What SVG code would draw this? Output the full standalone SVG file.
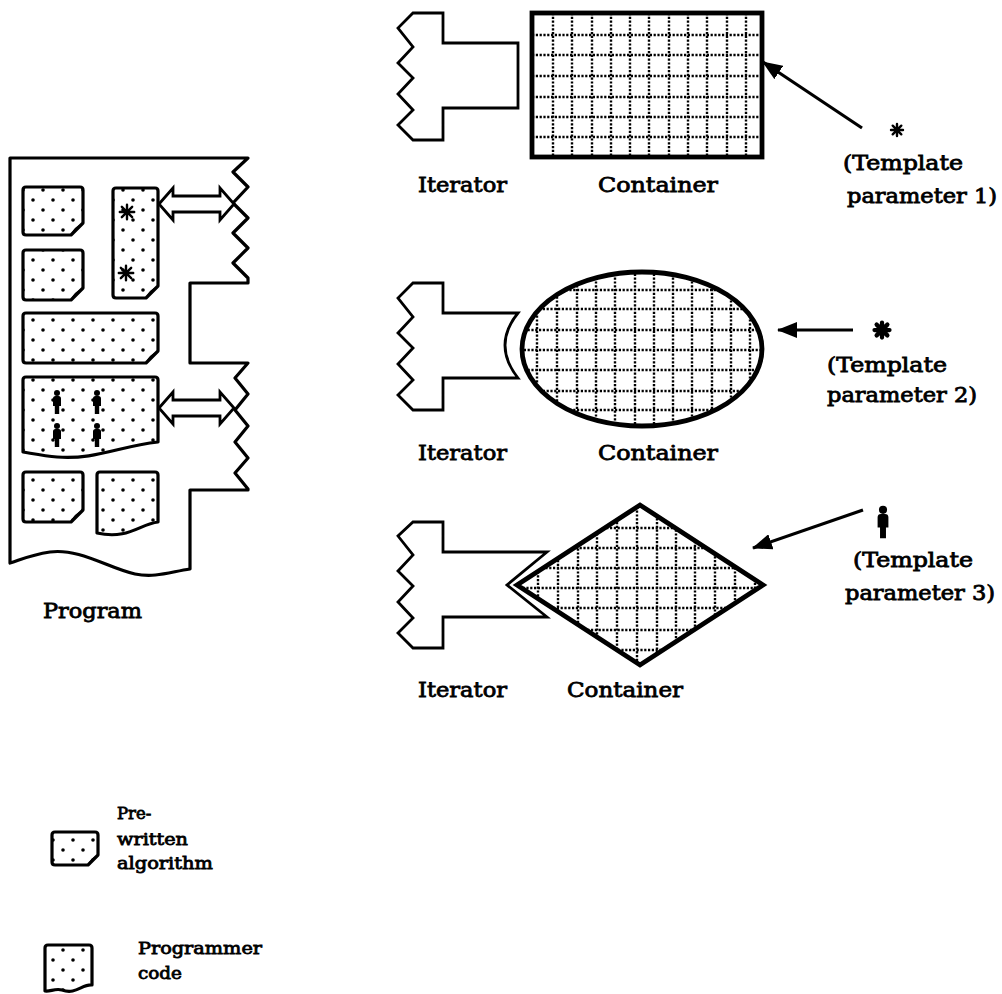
<svg xmlns="http://www.w3.org/2000/svg" width="1002" height="994" viewBox="0 0 1002 994">
<style>
.ln{fill:none;stroke:#000;stroke-width:3.2;stroke-linejoin:round}
.blk{fill:url(#dots);stroke:#000;stroke-width:3.2;stroke-linejoin:round}
.flap{fill:#000}
.it{fill:#fff;stroke:#000;stroke-width:2.8;stroke-linejoin:miter}
.grid{fill:none;stroke:#000;stroke-width:2.4;stroke-dasharray:2.2 1.6}
.cont{fill:none;stroke:#000;stroke-width:4.8;stroke-linejoin:miter}
.dbl{fill:#fff;stroke:#000;stroke-width:2.8;stroke-linejoin:miter}
.conn{fill:none;stroke:#000;stroke-width:3.2}
.star{stroke:#000;stroke-linecap:round}
text{font-family:"DejaVu Serif","Liberation Serif",serif;fill:#000;stroke:#000;stroke-width:0.8}
.lbl{font-size:20.5px}
.tp{font-size:19.5px}
.lg{font-size:16.5px}
</style>
<defs>
<pattern id="dots" patternUnits="userSpaceOnUse" x="8" y="-5" width="20" height="20">
<circle cx="5" cy="5" r="1.8" fill="#000"/>
<circle cx="15" cy="15" r="1.8" fill="#000"/>
</pattern>
<marker id="ah" markerUnits="userSpaceOnUse" markerWidth="20" markerHeight="16" refX="19" refY="8" orient="auto">
<path d="M0,0 L20,8 L0,16 Z" fill="#000"/>
</marker>
<g id="person">
<circle cx="0" cy="-9" r="3"/>
<path d="M-4,-3.5 Q-4,-6 -1.5,-6 H1.5 Q4,-6 4,-3.5 V4 H2.2 V12 H-2.2 V4 H-4 Z"/>
</g>
<g id="ast">
<path d="M-6,0H6M0,-6V6M-4.3,-4.3L4.3,4.3M-4.3,4.3L4.3,-4.3"/>
</g>
<clipPath id="cpRect"><rect x="532" y="13" width="230" height="144"/></clipPath>
<clipPath id="cpEll"><ellipse cx="642" cy="349" rx="120" ry="77"/></clipPath>
<clipPath id="cpDia"><path d="M517,585 L640,505 L763,585 L640,665 Z"/></clipPath>
</defs>

<g id="program">
<path class="ln" d="M10,563 V158 H248 L233,172 L248,187 L233,203 L248,218 L233,233 L248,248 L233,263 L248,278 V283 H190 V363 H248 L235,378 L248,394 L235,410 L248,426 L235,442 L248,458 L235,473 L248,489 V490 H190 V569 C170,572 155,578 135,574 C110,569 80,548 50,552 C30,555 20,560 10,563 Z"/>
<g id="blockA">
<path class="blk" d="M26,187 H80 Q83,187 83,190 V223 L71,235 H26 Q23,235 23,232 V190 Q23,187 26,187 Z"/>
<path class="flap" d="M83,223 L71,235 Q73,227 83,223 Z"/>
</g>
<g id="blockB">
<path class="blk" d="M116,188 H155 Q158,188 158,191 V286 L146,298 H116 Q113,298 113,295 V191 Q113,188 116,188 Z"/>
<path class="flap" d="M158,286 L146,298 Q148,290 158,286 Z"/>
<g transform="translate(127,212) scale(1.2)" class="star" stroke-width="2"><use href="#ast"/></g>
<g transform="translate(126,273) scale(1.2)" class="star" stroke-width="2"><use href="#ast"/></g>
</g>
<g id="blockC">
<path class="blk" d="M26,250 H80 Q83,250 83,253 V288 L71,300 H26 Q23,300 23,297 V253 Q23,250 26,250 Z"/>
<path class="flap" d="M83,288 L71,300 Q73,292 83,288 Z"/>
</g>
<g id="blockD">
<path class="blk" d="M26,313 H155 Q158,313 158,316 V351 L146,363 H26 Q23,363 23,360 V316 Q23,313 26,313 Z"/>
<path class="flap" d="M158,351 L146,363 Q148,355 158,351 Z"/>
</g>
<g id="blockE">
<path class="blk" d="M26,377 H155 Q158,377 158,380 V442 C120,446 95,460 57,457 C45,456 35,454 23,452 V380 Q23,377 26,377 Z"/>
<use href="#person" transform="translate(57,402)"/>
<use href="#person" transform="translate(97,402)"/>
<use href="#person" transform="translate(57,435)"/>
<use href="#person" transform="translate(97,435)"/>
</g>
<g id="blockF">
<path class="blk" d="M26,472 H80 Q83,472 83,475 V510 L71,522 H26 Q23,522 23,519 V475 Q23,472 26,472 Z"/>
<path class="flap" d="M83,510 L71,522 Q73,514 83,510 Z"/>
</g>
<g id="blockG">
<path class="blk" d="M100,472 H155 Q158,472 158,475 V522 C140,524 128,540 97,533 V475 Q97,472 100,472 Z"/>
</g>
<path class="dbl" d="M159,204 L173,188 V196 H220 V188 L234,204 L220,220 V212 H173 V220 Z"/>
<path class="dbl" d="M159,408 L173,392 V400 H220 V392 L234,408 L220,424 V416 H173 V424 Z"/>
<text class="lbl" x="43" y="618" textLength="99" lengthAdjust="spacingAndGlyphs">Program</text>
</g>

<g id="iterator1">
<path class="it" d="M413,13 H443 V43 H518 V108 H443 V140 H413 L398,125 L413,110 L398,94 L413,78 L398,63 L413,47 L398,28 Z"/>
<text class="lbl" x="418" y="192" textLength="89" lengthAdjust="spacingAndGlyphs">Iterator</text>
</g>
<g id="container1">
<path class="grid" clip-path="url(#cpRect)" d="M532,35H762M532,55H762M532,76H762M532,97H762M532,117H762M532,137H762M553,13V157M572,13V157M592,13V157M611,13V157M630,13V157M649,13V157M669,13V157M688,13V157M707,13V157M727,13V157M746,13V157"/>
<rect class="cont" x="532" y="13" width="230" height="144"/>
<text class="lbl" x="598" y="192" textLength="120" lengthAdjust="spacingAndGlyphs">Container</text>
</g>
<g id="param1">
<g transform="translate(897,130)" class="star" stroke-width="2.4"><use href="#ast"/></g>
<text class="tp" x="843" y="170" textLength="120" lengthAdjust="spacingAndGlyphs">(Template</text>
<text class="tp" x="847" y="203" textLength="150" lengthAdjust="spacingAndGlyphs">parameter 1)</text>
</g>

<g id="iterator2">
<path class="it" d="M413,283 H443 V313 H518 Q492,345 518,378 H443 V410 H413 L398,395 L413,380 L398,364 L413,348 L398,333 L413,317 L398,298 Z"/>
<text class="lbl" x="418" y="460" textLength="89" lengthAdjust="spacingAndGlyphs">Iterator</text>
</g>
<g id="container2">
<path class="grid" clip-path="url(#cpEll)" d="M520,290H765M520,309H765M520,330H765M520,350H765M520,370H765M520,391H765M520,410H765M537,270V428M557,270V428M577,270V428M596,270V428M615,270V428M635,270V428M654,270V428M673,270V428M692,270V428M712,270V428M731,270V428M750,270V428"/>
<ellipse class="cont" cx="642" cy="349" rx="120" ry="77"/>
<text class="lbl" x="598" y="460" textLength="120" lengthAdjust="spacingAndGlyphs">Container</text>
</g>
<g id="param2">
<g transform="translate(882,330) scale(1.25)" class="star" stroke-width="3.4"><use href="#ast"/></g>
<text class="tp" x="827" y="372" textLength="120" lengthAdjust="spacingAndGlyphs">(Template</text>
<text class="tp" x="827" y="402" textLength="150" lengthAdjust="spacingAndGlyphs">parameter 2)</text>
</g>

<g id="iterator3">
<path class="it" d="M413,522 H443 V552 H547 L507,585 L547,617 H443 V648 H413 L398,633 L413,618 L398,602 L413,586 L398,571 L413,555 L398,536 Z"/>
<text class="lbl" x="418" y="697" textLength="89" lengthAdjust="spacingAndGlyphs">Iterator</text>
</g>
<g id="container3">
<path class="grid" clip-path="url(#cpDia)" d="M515,528H765M515,548H765M515,568H765M515,588H765M515,608H765M515,630H765M515,650H765M538,503V667M558,503V667M578,503V667M597,503V667M617,503V667M637,503V667M657,503V667M676,503V667M695,503V667M715,503V667M735,503V667M755,503V667"/>
<path class="cont" d="M517,585 L640,505 L763,585 L640,665 Z"/>
<text class="lbl" x="567" y="697" textLength="116" lengthAdjust="spacingAndGlyphs">Container</text>
</g>
<g id="param3">
<use href="#person" transform="translate(883,522) scale(1.35)"/>
<text class="tp" x="853" y="567" textLength="120" lengthAdjust="spacingAndGlyphs">(Template</text>
<text class="tp" x="845" y="600" textLength="150" lengthAdjust="spacingAndGlyphs">parameter 3)</text>
</g>

<g id="connectors">
<line class="conn" x1="862" y1="128" x2="763" y2="62" marker-end="url(#ah)"/>
<line class="conn" x1="853" y1="330" x2="778" y2="330" marker-end="url(#ah)"/>
<line class="conn" x1="863" y1="510" x2="753" y2="548" marker-end="url(#ah)"/>
</g>

<g id="legend-prewritten">
<path class="blk" d="M55,832 H95 Q98,832 98,835 V855 L88,865 H55 Q52,865 52,862 V835 Q52,832 55,832 Z"/>
<path class="flap" d="M98,855 L88,865 Q90,858 98,855 Z"/>
<text class="lg" x="117" y="819">Pre-</text>
<text class="lg" x="117" y="845" textLength="71" lengthAdjust="spacingAndGlyphs">written</text>
<text class="lg" x="117" y="869" textLength="96" lengthAdjust="spacingAndGlyphs">algorithm</text>
</g>
<g id="legend-programmer">
<path class="blk" d="M48,945 H89 Q92,945 92,948 V985 C82,984 76,995 62,990 C55,988 50,992 45,991 V948 Q45,945 48,945 Z"/>
<text class="lg" x="138" y="954" textLength="124" lengthAdjust="spacingAndGlyphs">Programmer</text>
<text class="lg" x="138" y="979" textLength="44" lengthAdjust="spacingAndGlyphs">code</text>
</g>
</svg>
